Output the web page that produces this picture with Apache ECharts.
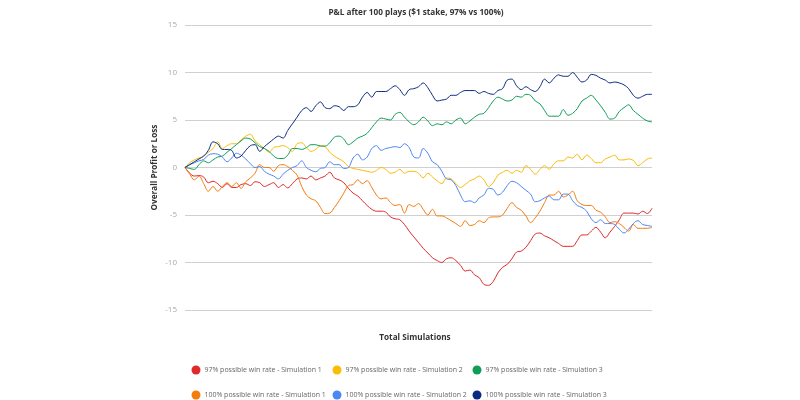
<!DOCTYPE html>
<html>
<head>
<meta charset="utf-8">
<script src="https://cdn.jsdelivr.net/npm/echarts@6/dist/echarts.min.js"></script>
<style>html,body{margin:0;padding:0;background:#fff}#c{width:800px;height:400px}</style>
</head>
<body>
<div id="c"></div>
<script>
const plays = Array.from({length: 101}, (_, i) => i);
const seriesNames = [
  '97% possible win rate - Simulation 1',
  '97% possible win rate - Simulation 2',
  '97% possible win rate - Simulation 3',
  '100% possible win rate - Simulation 1',
  '100% possible win rate - Simulation 2',
  '100% possible win rate - Simulation 3'
];
const sim97_1 = [0,-0.6,-0.9,-0.85,-1.0,-1.6,-1.45,-1.7,-2.1,-1.7,-2.1,-2.1,-1.8,-1.7,-1.9,-1.5,-1.6,-2.0,-1.8,-1.6,-2.1,-1.8,-2.15,-1.7,-1.2,-1.1,-1.2,-0.9,-1.3,-1.1,-0.9,-0.5,-1.1,-1.3,-1.6,-2.2,-2.7,-3.0,-3.5,-4.0,-4.4,-4.6,-4.6,-4.7,-5.2,-5.4,-5.5,-6.0,-6.7,-7.3,-7.9,-8.5,-9.0,-9.5,-9.8,-10.0,-9.6,-9.5,-9.8,-10.3,-10.9,-10.8,-11.3,-11.6,-12.3,-12.4,-12.0,-11.1,-10.5,-10.2,-9.6,-8.9,-8.8,-8.4,-7.7,-7.0,-6.9,-7.2,-7.4,-7.7,-8.0,-8.3,-8.3,-8.3,-7.7,-7.1,-7.1,-6.7,-6.3,-6.8,-7.4,-6.8,-6.2,-5.5,-4.8,-4.8,-4.8,-4.9,-4.6,-4.85,-4.3];
const sim97_2 = [0,0.5,0.8,1.0,1.2,1.6,2.0,2.7,2.0,2.3,2.5,2.5,2.9,3.3,3.5,2.8,2.4,2.0,1.6,2.1,2.2,2.3,2.1,1.7,2.5,2.6,2.1,1.7,1.9,2.3,2.2,1.6,1.2,0.9,0.6,0.1,-0.1,-0.2,-0.3,-0.4,-0.5,-0.3,0.0,-0.2,-0.6,-0.5,-0.2,-0.6,-0.4,-0.4,-0.6,-1.1,-0.6,-1.0,-1.4,-1.7,-1.1,-1.2,-1.7,-2.1,-1.8,-1.4,-1.2,-0.9,-1.3,-2.0,-1.6,-0.8,-0.5,-0.3,-0.6,-0.3,-0.5,0.2,-0.2,-0.7,-0.2,0.2,-0.2,0.4,0.7,0.7,1.1,1.0,1.4,0.8,1.3,0.95,0.5,0.5,0.9,1.1,1.3,0.8,0.8,0.9,0.75,0.2,0.5,0.9,1.0];
const sim97_3 = [0,-0.1,-0.2,0.3,0.7,0.5,0.8,1.1,1.2,1.6,2.0,2.4,2.8,3.1,3.0,2.6,2.2,2.0,1.7,1.2,0.95,0.95,1.3,2.0,2.0,1.9,2.1,2.4,2.4,2.25,2.25,2.6,3.2,3.3,3.0,2.4,2.7,3.1,3.3,3.6,4.2,4.8,5.2,5.1,5.0,5.6,5.8,5.3,4.8,4.5,4.8,5.3,4.9,4.4,4.6,4.5,4.8,4.6,5.0,5.2,4.6,4.9,5.3,5.6,5.7,6.3,7.0,7.4,7.2,7.0,7.1,7.5,7.4,7.7,7.6,7.0,6.7,6.0,5.4,5.4,5.4,6.1,5.5,5.7,6.2,7.0,7.3,7.6,7.1,6.5,5.8,5.1,5.2,5.9,6.3,6.6,6.0,5.6,5.2,4.9,4.8];
const sim100_1 = [0,-0.7,-1.3,-0.9,-1.7,-2.5,-2.0,-2.5,-2.0,-1.6,-2.0,-1.6,-2.2,-1.5,-1.1,-0.6,0.3,0.0,0.0,-0.4,0.2,0.3,0.1,-0.3,-0.8,-2.0,-2.9,-3.3,-3.5,-4.2,-4.85,-4.8,-4.2,-3.5,-2.7,-1.9,-1.8,-1.3,-1.7,-1.4,-2.1,-2.9,-3.3,-3.2,-3.7,-4.0,-3.9,-4.8,-3.9,-4.1,-3.8,-4.4,-5.0,-4.4,-5.1,-5.1,-5.3,-5.6,-5.9,-6.2,-5.6,-6.1,-6.0,-5.6,-5.8,-5.3,-5.2,-5.2,-5.0,-4.3,-3.7,-4.2,-4.5,-5.1,-5.8,-5.3,-4.6,-3.7,-2.9,-2.9,-2.5,-3.1,-2.9,-2.5,-3.5,-3.9,-4.0,-4.0,-4.5,-4.7,-5.2,-5.8,-5.7,-5.9,-6.3,-6.7,-6.0,-6.4,-6.4,-6.4,-6.3];
const sim100_2 = [0,0.3,0.5,0.7,0.85,1.3,1.45,1.4,1.1,0.6,1.0,1.5,1.3,0.9,0.4,0.0,0.1,-0.4,-0.7,-0.9,-1.2,-0.7,-0.3,0.0,0.2,0.7,0.0,-0.3,-0.45,-0.1,0.0,0.6,0.3,0.3,-0.1,0.0,1.0,1.4,0.8,1.1,2.0,2.3,1.8,2.0,2.1,2.2,2.1,2.5,2.1,1.1,1.0,2.0,1.5,0.6,0.3,-0.4,-1.2,-1.3,-1.9,-2.9,-3.6,-3.5,-3.7,-3.2,-2.9,-2.2,-2.3,-2.9,-2.6,-1.9,-1.45,-1.6,-2.0,-2.4,-2.8,-3.6,-3.5,-3.2,-3.0,-3.4,-3.4,-2.8,-2.8,-3.5,-4.0,-4.2,-4.6,-5.4,-5.8,-5.5,-5.9,-5.9,-6.0,-6.5,-6.9,-6.5,-5.9,-5.6,-6.0,-6.1,-6.2];
const sim100_3 = [0,0.3,0.6,0.9,1.2,1.8,2.7,2.5,1.9,1.9,1.8,1.0,1.2,1.8,2.3,2.4,1.7,2.2,2.6,3.0,3.3,3.1,3.9,4.6,5.3,6.0,6.3,5.9,6.5,6.9,6.3,6.2,6.5,6.4,6.0,6.4,6.4,6.6,7.4,7.9,7.4,8.0,8.0,8.0,8.3,8.6,8.2,7.6,8.2,8.3,8.5,8.9,8.4,7.6,7.0,7.1,7.2,7.6,7.6,7.9,8.1,8.1,8.1,7.8,8.0,7.8,7.7,8.1,8.3,9.2,9.3,8.6,8.2,8.5,8.2,8.0,8.5,9.3,8.9,9.4,9.75,9.6,9.6,10.0,9.5,9.0,9.2,9.8,9.7,9.4,9.2,8.9,9.0,8.9,8.7,8.3,7.6,7.3,7.5,7.7,7.7];
const yTicks = [-15, -10, -5, 0, 5, 10, 15];
const colors = ['#de2a2a', '#fbbc05', '#0f9d58', '#f57b0d', '#4d87f3', '#0b2b82'];
const allData = [sim97_1, sim97_2, sim97_3, sim100_1, sim100_2, sim100_3];

const FONT = '"Open Sans", sans-serif';
const legendPos = [[191.5, 365.5], [332.5, 365.5], [472.5, 365.5], [191.5, 390.5], [332.5, 390.5], [472.5, 390.5]];

const chart = echarts.init(document.getElementById('c'), null, {renderer: 'canvas'});
chart.setOption({
  animation: false,
  backgroundColor: '#fff',
  color: colors,
  title: [
    {text: 'P&L after 100 plays ($1 stake, 97% vs 100%)', left: 411, top: 4, textAlign: 'center',
     textStyle: {fontFamily: FONT, fontSize: 8.2, fontWeight: 'bold', color: '#333'}},
    {text: 'Total Simulations', left: 410, top: 329, textAlign: 'center',
     textStyle: {fontFamily: FONT, fontSize: 8.2, fontWeight: 'bold', color: '#333'}}
  ],
  legend: seriesNames.map((n, k) => ({
    data: [n], left: legendPos[k][0], top: legendPos[k][1], icon: 'circle',
    itemWidth: 9, itemHeight: 9, padding: 0, selectedMode: false,
    textStyle: {fontFamily: FONT, fontSize: 7, color: '#666', padding: [0, 0, 0, -1]}
  })),
  grid: {left: 185, right: 148, top: 25, bottom: 90, containLabel: false},
  xAxis: {
    type: 'category', data: plays, boundaryGap: false,
    axisLine: {show: false}, axisTick: {show: false}, axisLabel: {show: false}, splitLine: {show: false}
  },
  yAxis: {
    type: 'value', min: yTicks[0], max: yTicks[yTicks.length - 1], interval: 5,
    name: 'Overall Profit or Loss', nameLocation: 'middle', nameGap: 26, nameRotate: 90,
    nameMoveOverlap: false,
    nameTextStyle: {fontFamily: FONT, fontSize: 8.2, fontWeight: 'bold', color: '#333'},
    axisLine: {show: false}, axisTick: {show: false},
    axisLabel: {fontFamily: FONT, fontSize: 8, color: '#aaa', margin: 8},
    splitLine: {lineStyle: {color: '#d0d0d0', width: 1}}
  },
  series: seriesNames.map((n, k) => ({
    name: n, type: 'line', data: allData[k], smooth: 0.35, symbol: 'none',
    lineStyle: {width: 1, color: colors[k]}, itemStyle: {color: colors[k]}
  }))
});
</script>
</body>
</html>
